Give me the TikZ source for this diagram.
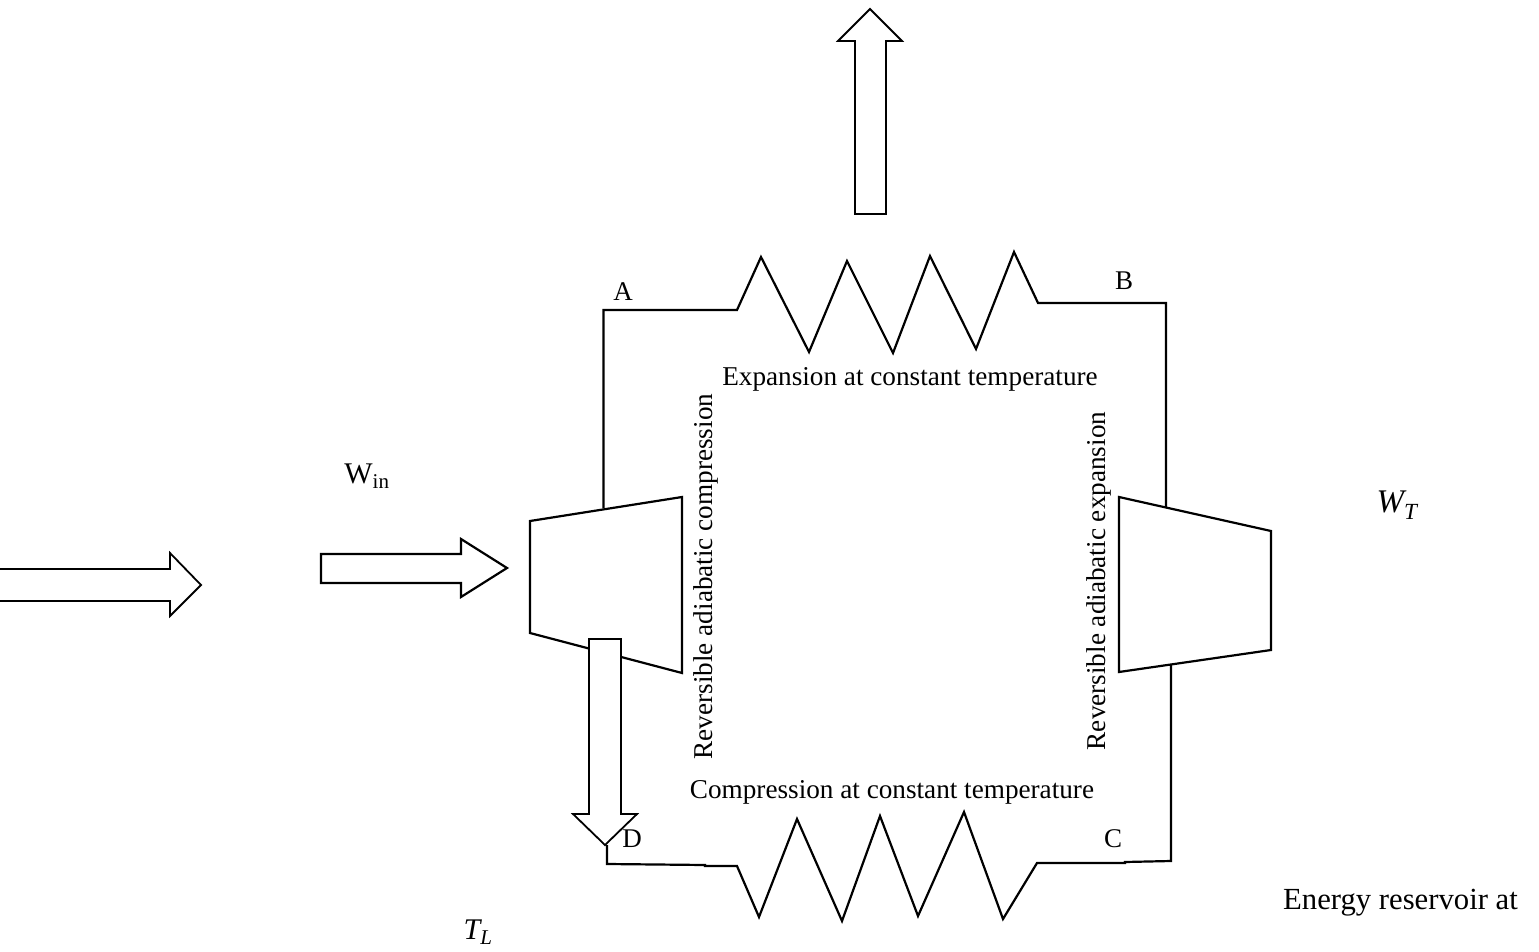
\documentclass[tikz,border=0pt]{standalone}
\usepackage{fontspec}
\setmainfont{Liberation Serif}
\tikzset{
  wire/.style={draw=black,line width=2.2pt,line join=miter},
  blockarrow/.style={draw=black,fill=white,line width=1.8pt,line join=miter},
  heavyarrow/.style={blockarrow,line width=2.2pt},
  lab/.style={inner sep=0pt,anchor=center,font=\fontsize{27}{30}\selectfont},
  worklab/.style={inner sep=0pt,anchor=center,font=\fontsize{30}{33}\selectfont},
  captext/.style={inner sep=0pt,anchor=center,font=\fontsize{27.2}{30}\selectfont},
}
\begin{document}
\begin{tikzpicture}[x=1pt,y=-1pt]
\useasboundingbox (0,0) rectangle (1539,952);
% corners
\coordinate (cTop) at (603.5,508);
\coordinate (cA) at (603.5,310);
\coordinate (cB) at (1166,303);
\coordinate (tTop) at (1166,507);
\coordinate (tBot) at (1171,665);
\coordinate (cC) at (1171,861);
\coordinate (cD) at (607,864);
\coordinate (dUp) at (607,845);
% top circuit with coil
\draw[wire] (cTop) -- (cA) -- (737,310) -- (761,257) -- (809,352) -- (847,261) -- (893,353) -- (930,256) -- (976,349) -- (1014,252) -- (1038,303) -- (cB) -- (tTop);
% bottom circuit with coil
\draw[wire] (tBot) -- (cC) -- (1125,862) -- (1125,863) -- (1037,863) -- (1003,919) -- (964,812) -- (918,916) -- (880,816) -- (842,921) -- (797,819) -- (759,917) -- (737,866) -- (705,866) -- (705,865) -- (cD) -- (dUp);
% compressor and turbine
\draw[wire] (530,521) -- (682,497) -- (682,673) -- (530,633) -- cycle;
\draw[wire] (1119,497) -- (1271,531) -- (1271,650) -- (1119,672) -- cycle;
% block arrows
\draw[blockarrow] (855,214) -- (855,41) -- (838,41) -- (870,9) -- (902,41) -- (886,41) -- (886,214) -- cycle;
\draw[blockarrow] (589,639) -- (589,814) -- (573,814) -- (605,845) -- (637,814) -- (621,814) -- (621,639) -- cycle;
\draw[heavyarrow] (321,554) -- (461,554) -- (461,539) -- (507,568) -- (461,597) -- (461,583) -- (321,583) -- cycle;
\draw[blockarrow] (-3,569) -- (170,569) -- (170,553) -- (201,585) -- (170,616) -- (170,601) -- (-3,601);
% texts
\node[lab] (lA) at (623,292) {A};
\node[lab] (lB) at (1124,281) {B};
\node[lab] (lC) at (1113,839) {C};
\node[lab] (lD) at (632,839) {D};
\node[worklab] (lWin) at (367,476) {W\textsubscript{in}};
\node[inner sep=0pt,font=\fontsize{33}{36}\itshape] (lWT) at (1397,505) {W\textsubscript{T}};
\node[inner sep=0pt,font=\fontsize{30}{33}\itshape] (lTL) at (478,932) {T\textsubscript{L}};
\node[captext] (exp) at (910,379) {Expansion at constant temperature};
\node[captext] (com) at (892,792) {Compression at constant temperature};
\node[captext,rotate=90] (rac) at (706,576.5) {Reversible adiabatic compression};
\node[captext,rotate=90] (rae) at (1099,581) {Reversible adiabatic expansion};
\node[inner sep=0pt,font=\fontsize{30.7}{33}\selectfont] (er) at (1400.5,903) {Energy reservoir at};
\end{tikzpicture}
\end{document}
